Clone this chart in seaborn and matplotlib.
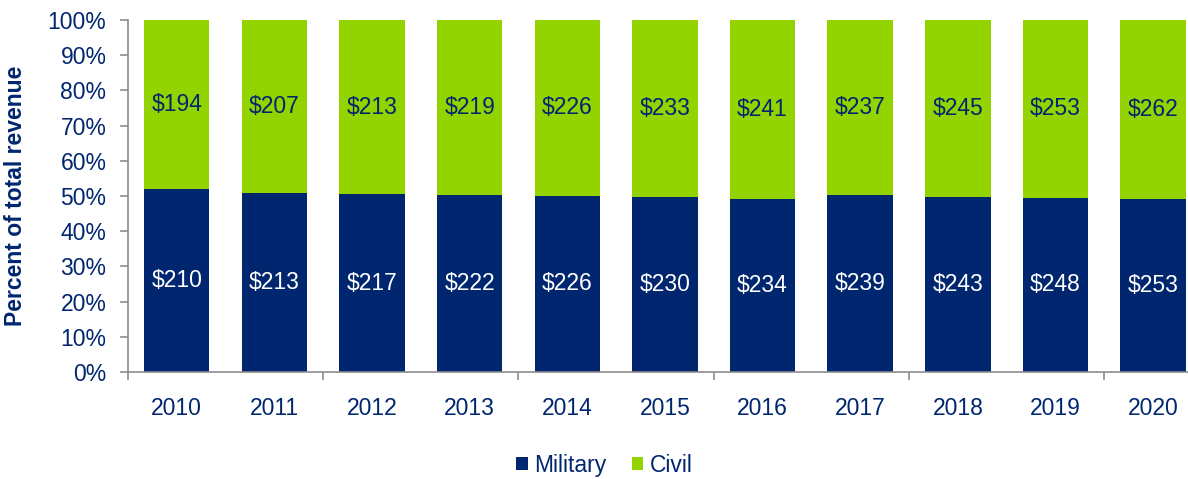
import numpy as np
import pandas as pd
import matplotlib
matplotlib.use("Agg")
import matplotlib.pyplot as plt
from matplotlib.patches import Patch
import seaborn as sns

# Revenue by segment, in billions of dollars
years = ["2010", "2011", "2012", "2013", "2014", "2015",
         "2016", "2017", "2018", "2019", "2020"]
military = [210, 213, 217, 222, 226, 230, 234, 239, 243, 248, 253]
civil = [194, 207, 213, 219, 226, 233, 241, 237, 245, 253, 262]

NAVY = "#00266F"
GREEN = "#93D300"
AXIS_GREY = "#8C8C8C"
FS = 16.5

sns.set_theme(style="white")
plt.rcParams["font.family"] = ["Liberation Sans", "DejaVu Sans"]

df = pd.DataFrame({"year": years, "military": military, "civil": civil})
df["total"] = df["military"] + df["civil"]
df["mil_pct"] = df["military"] / df["total"] * 100
df["full"] = 100.0

fig = plt.figure(figsize=(11.88, 4.79), dpi=100)
ax = fig.add_axes([0.1077, 0.2234, 0.904, 0.7349])

# Civil share fills the rest of each 100% bar; military sits at the bottom
sns.barplot(data=df, x="year", y="full", color=GREEN, width=0.67,
            saturation=1, ax=ax, linewidth=0)
sns.barplot(data=df, x="year", y="mil_pct", color=NAVY, width=0.67,
            saturation=1, ax=ax, linewidth=0)

# Dollar labels centred in each segment
for i, row in df.iterrows():
    m = row["mil_pct"]
    ax.text(i, m / 2, f"${row['military']}", color="white",
            ha="center", va="center", fontsize=FS)
    ax.text(i, (m + 100) / 2, f"${row['civil']}", color=NAVY,
            ha="center", va="center", fontsize=FS)

ax.set_xlim(-0.5, 10.5)
ax.set_ylim(0, 100)
ax.set_yticks(np.arange(0, 101, 10))
ax.set_yticklabels([f"{v}%" for v in range(0, 101, 10)])

# Year labels at bar centres, tick marks between every second pair of bars
ax.tick_params(axis="x", which="major", length=0, pad=18,
               labelsize=FS, labelcolor=NAVY)
ax.set_xticks(np.arange(-0.5, 10.5, 2), minor=True)
ax.tick_params(axis="x", which="minor", length=5.5, width=1.2,
               color=AXIS_GREY, direction="out", bottom=True)
ax.tick_params(axis="y", length=5.5, width=1.2, color=AXIS_GREY,
               direction="out", left=True, pad=10,
               labelsize=FS, labelcolor=NAVY)

ax.set_xlabel("")
ax.set_ylabel("Percent of total revenue", fontsize=16.5,
              fontweight="bold", color=NAVY)
ax.yaxis.set_label_coords(-0.094, 0.5)

for side in ("top", "right"):
    ax.spines[side].set_visible(False)
for side in ("left", "bottom"):
    ax.spines[side].set_color(AXIS_GREY)
    ax.spines[side].set_linewidth(1.2)
ax.grid(False)

handles = [Patch(facecolor=NAVY, edgecolor="none", label="Military"),
           Patch(facecolor=GREEN, edgecolor="none", label="Civil")]
leg = fig.legend(handles=handles, loc="center",
                 bbox_to_anchor=(0.509, 0.028), ncol=2, frameon=False,
                 fontsize=FS, handlelength=0.5, handleheight=0.5,
                 handletextpad=0.3, columnspacing=1.1)
for t in leg.get_texts():
    t.set_color(NAVY)

fig.savefig("out.png", dpi=100)
